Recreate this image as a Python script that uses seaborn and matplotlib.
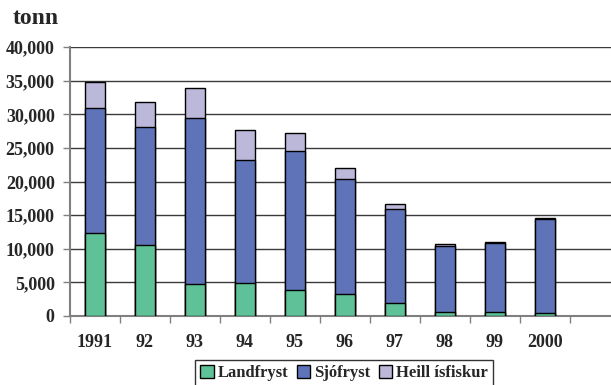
import matplotlib
matplotlib.use("Agg")
import matplotlib.pyplot as plt
import matplotlib.ticker as mticker
from matplotlib.patches import Patch
import numpy as np
import pandas as pd
import seaborn as sns

years = ["1991", "92", "93", "94", "95", "96", "97", "98", "99", "2000"]
landfryst = [12400, 10550, 4700, 4850, 3800, 3200, 2000, 650, 550, 400]
sjofryst = [18600, 17500, 24800, 18400, 20800, 17150, 13850, 9700, 10350, 14000]
heill = [3800, 3800, 4450, 4400, 2650, 1700, 850, 300, 150, 100]

series_names = ["Landfryst", "Sjófryst", "Heill ísfiskur"]
colors = ["#5fc197", "#5f73b9", "#bcb8da"]

df = pd.DataFrame({"year": years, "L": landfryst, "S": sjofryst, "H": heill})
df["LS"] = df["L"] + df["S"]
df["LSH"] = df["LS"] + df["H"]

sns.set_theme(style="white")
plt.rcParams["font.family"] = ["Liberation Serif", "DejaVu Serif"]
plt.rcParams["font.weight"] = "bold"

fig = plt.figure(figsize=(6.11, 3.85), dpi=100)
ax = fig.add_axes([70 / 611, 1 - 316 / 385, 541 / 611, 269 / 385])

# stacked bars: draw cumulative totals back to front
for col, color in zip(["LSH", "LS", "L"], colors[::-1]):
    sns.barplot(data=df, x="year", y=col, order=years, color=color, width=0.4,
                edgecolor="black", linewidth=1, saturation=1, ax=ax, zorder=3)

ax.set_xlim(-0.5, 10.32)
ax.set_ylim(0, 40000)
ax.yaxis.set_major_locator(mticker.MultipleLocator(5000))
ax.yaxis.set_major_formatter(mticker.FuncFormatter(lambda v, p: f"{int(v):,}"))
ax.grid(axis="y", color="#3a3a3a", linewidth=1, zorder=0)
ax.set_axisbelow(True)
ax.set_xlabel("")
ax.set_ylabel("")

for s in ["top", "right"]:
    ax.spines[s].set_visible(False)
for s in ["left", "bottom"]:
    ax.spines[s].set_color("#808080")
    ax.spines[s].set_linewidth(1.5)

ax.xaxis.set_minor_locator(mticker.FixedLocator(np.arange(-0.5, 11, 1.0)))
ax.tick_params(axis="x", which="major", length=0, pad=13, labelsize=13)
ax.tick_params(axis="x", which="minor", length=5, width=1, color="#808080", direction="out", bottom=True)
ax.tick_params(axis="y", which="major", length=5, width=1, color="#808080", direction="out", left=True, pad=6, labelsize=13)
for lab in ax.get_xticklabels() + ax.get_yticklabels():
    lab.set_fontweight("bold")

fig.text(13 / 611, 1 - 18 / 385, "tonn", fontsize=17, fontweight="bold", va="center", ha="left")

handles = [Patch(facecolor=c, edgecolor="black", linewidth=1) for c in colors]
leg = fig.legend(handles, series_names, loc="upper center", bbox_to_anchor=(344 / 611, 1 - 360 / 385),
                 ncol=3, frameon=True, fancybox=False, edgecolor="black", handlelength=0.8,
                 handleheight=0.8, handletextpad=0.25, columnspacing=0.5, borderpad=0.3,
                 borderaxespad=0, prop={"size": 12, "weight": "bold"})
leg.get_frame().set_linewidth(1)

fig.savefig("out.png", dpi=100)
